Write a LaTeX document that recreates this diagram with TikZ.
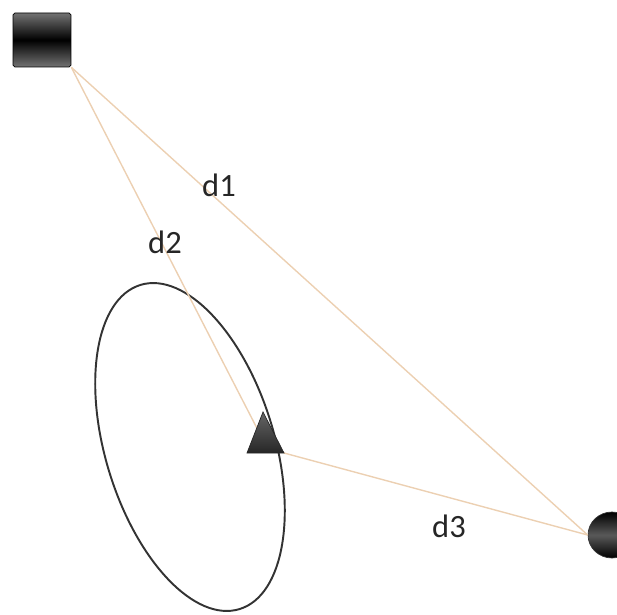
\documentclass[tikz,border=0pt]{standalone}
\usepackage{fontspec}
\setmainfont{Carlito}
\usetikzlibrary{shapes.geometric}

\definecolor{linkclr}{RGB}{236,208,178}
\tikzset{
  link/.style={draw=linkclr,line width=0.8pt},
  dlabel/.style={text=black!85,font=\fontsize{18.5}{20}\selectfont,inner sep=1pt},
}

\begin{document}
\begin{tikzpicture}[x=0.02cm,y=-0.02cm]
\useasboundingbox (0,0) rectangle (617,614);
% coverage area
\draw[black!80,line width=1.1pt,rotate around={17:(190,447)}] (190,447) ellipse [x radius=1.69cm,y radius=3.39cm];
% nodes
\node[draw=black,rounded corners=1pt,top color=black!55,bottom color=black!55,middle color=black,minimum width=1.16cm,minimum height=1.08cm,inner sep=0pt] (sq) at (42,40) {};
\node[draw=black!80,ellipse,top color=black,bottom color=black,middle color=black!65,minimum width=0.96cm,minimum height=0.92cm,inner sep=0pt] (ball) at (612,535) {};
\coordinate (tritop) at (263,412);
\coordinate (trileft) at (247,453);
\coordinate (triright) at (284,453);
\coordinate (trimid) at (263,440);
% distances
\draw[link] (sq.south east) -- (ball.west);
\draw[link] (sq.south east) -- (trimid);
\draw[link] (triright) -- (ball.west);
\draw[black!85,top color=black!60,bottom color=black!85] (tritop) -- (triright) -- (trileft) -- cycle;
\node[dlabel] (d1) at (219,185) {d1};
\node[dlabel] (d2) at (165,242) {d2};
\node[dlabel] (d3) at (449,526) {d3};
\end{tikzpicture}
\end{document}
